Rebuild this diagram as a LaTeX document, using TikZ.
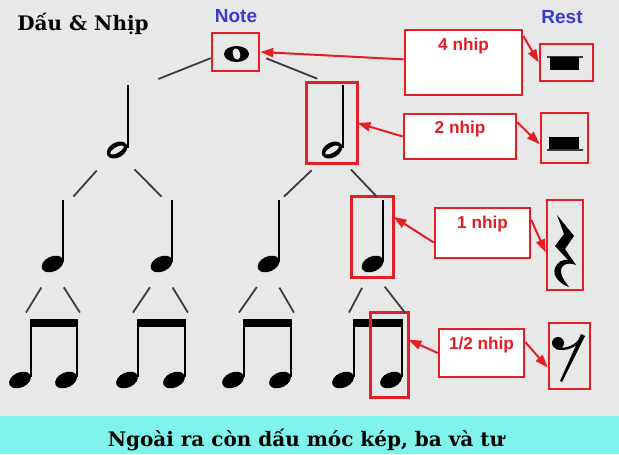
\documentclass[tikz,border=0pt]{standalone}
\usepackage{fontspec}
\setmainfont{DejaVu Serif}
\newfontfamily\labelfont{Liberation Sans}
\usetikzlibrary{arrows.meta}

\definecolor{bggray}{RGB}{232,232,232}
\definecolor{bandcyan}{RGB}{128,244,236}
\definecolor{markred}{RGB}{228,30,36}
\definecolor{headblue}{RGB}{55,60,205}
\definecolor{branchgray}{RGB}{60,60,60}

\begin{document}
\begin{tikzpicture}[
    x=0.5pt, y=-0.5pt,
    every node/.style={inner sep=0pt},
    title/.style={font=\bfseries\fontsize{10pt}{12pt}\selectfont},
    head/.style={font=\labelfont\bfseries\fontsize{9.5pt}{11pt}\selectfont, text=headblue},
    lbltxt/.style={font=\labelfont\bfseries\fontsize{8.6pt}{10pt}\selectfont, text=markred},
    lbox/.style={draw=markred, line width=1.3pt, fill=white},
    hl/.style={draw=markred, line width=1.3pt},
    halfbox/.style={minimum width=25pt, minimum height=40pt},
    qbox/.style={minimum width=20.5pt, minimum height=40pt},
    ebox/.style={minimum width=18.5pt, minimum height=42pt},
    stem/.style={line width=1.25pt},
    branch/.style={draw=branchgray, line width=0.9pt},
    restline/.style={draw=branchgray, line width=0.8pt},
    arr/.style={draw=markred, line width=1pt, -{Triangle[length=6.5pt, width=4.5pt]}}
  ]
    \useasboundingbox (0,0) rectangle (619,454);
    \fill[bggray] (0,0) rectangle (619,454);
    \fill[bandcyan] (0,416) rectangle (619,454);

    \node[title, anchor=base west] (title) at (17,31) {Dấu \& Nhịp};
    \node[head, anchor=base] (notehd) at (236,23) {Note};
    \node[head, anchor=base] (resthd) at (562,24) {Rest};
    \node[title, anchor=base] (footer) at (306,446) {Ngoài ra còn dấu móc kép, ba và tư};

    % whole note
    \node[hl, minimum width=23.5pt, minimum height=19pt] (whole) at (235.5,52) {};
    \fill (236.5,54) ellipse (12.5 and 8);
    \fill[bggray, rotate around={15:(236.5,54)}] (236.5,54) ellipse (3.6 and 5.8);

    % half notes
    \foreach \n/\x in {1/117,2/332}{
      \node[halfbox] (h\n) at (\x,123) {};
      \fill[rotate around={30:(\x,150)}] (\x,150) ellipse (11 and 7.5);
      \fill[bggray, rotate around={30:(\x,150)}] (\x,150) ellipse (7.5 and 2.8);
      \draw[stem] (\x+11,85) -- (\x+11,148);
    }

    % quarter notes
    \foreach \n/\x in {1/52.5,2/161.5,3/268.5,4/372.5}{
      \node[qbox] (q\n) at (\x,237) {};
      \fill[rotate around={25:(\x,264)}] (\x,264) ellipse (11.5 and 7.5);
      \draw[stem] (\x+10.5,200) -- (\x+10.5,262);
    }

    % eighth note pairs
    \foreach \n/\a/\b in {1/18.5/64.5,2/125.5/172.5,3/231.5/278.5,4/341.5/389.5}{
      \node[ebox] (el\n) at (\a,355) {};
      \node[ebox] (er\n) at (\b,355) {};
      \fill (\a+11.2,319) rectangle (\b+13.8,327);
      \draw[stem] (\a+12.5,319) -- (\a+12.5,377);
      \draw[stem] (\b+12.5,319) -- (\b+12.5,377);
      \fill[rotate around={25:(\a+1.5,380)}] (\a+1.5,380) ellipse (11.5 and 7.5);
      \fill[rotate around={25:(\b+1.5,380)}] (\b+1.5,380) ellipse (11.5 and 7.5);
    }

    \draw[hl] (h2.south west) rectangle (h2.north east);
    \draw[hl] (q4.south west) rectangle (q4.north east);
    \draw[hl] (er4.south west) rectangle (er4.north east);

    % tree
    \draw[branch, shorten >=8.6pt] (whole.194) -- (h1.56);
    \draw[branch, shorten <=3.2pt, shorten >=5.3pt] (whole.351) -- (h2.97);
    \draw[branch, shorten <=4.8pt] (h1.251) -- (q1.north east);
    \draw[branch, shorten <=4.2pt] (h1.286) -- (q2.north);
    \draw[branch, shorten <=5pt] (h2.252) -- (q3.69);
    \draw[branch, shorten <=4.2pt] (h2.288) -- (q4.84);
    \foreach \n in {1,...,4}{
      \draw[branch, shorten <=5.9pt] (q\n.263) -- (el\n.80);
      \draw[branch, shorten <=5.9pt] (q\n.277) -- (er\n.70);
    }

    % rests
    \node[hl, minimum width=26.5pt, minimum height=18.5pt] (wrest) at (566.5,62.5) {};
    \draw[restline] (547,57) -- (583,57);
    \fill (550,57) rectangle (579,70);

    \node[hl, minimum width=23.5pt, minimum height=25pt] (hrest) at (564.5,138) {};
    \fill (549,137) rectangle (579,149);
    \draw[restline] (547,150) -- (583,150);

    \node[hl, minimum width=18pt, minimum height=45pt] (qrest) at (565,245) {};
    \fill (557,215) -- (574,236) -- (565,249) -- (576,265)
      .. controls (566,261) and (558,266) .. (562,276)
      .. controls (564,281) and (567,284) .. (569,287)
      .. controls (560,284) and (552,276) .. (555,268)
      .. controls (557,262) and (563,259) .. (568,260)
      -- (555,246) -- (564,234) -- cycle;

    \node[hl, minimum width=20.5pt, minimum height=33pt] (erest) at (569.5,356) {};
    \fill (558,343) circle (6);
    \draw[line width=1.2pt] (556,348) .. controls (566,351) and (577,346) .. (583,336);
    \fill (581,334) -- (585,336) -- (562,382) -- (560,381) -- cycle;

    % duration labels
    \node[lbox, minimum width=58.5pt, minimum height=32.5pt,
      label={[lbltxt, anchor=base, yshift=-10.75pt]north:4 nhip}] (n4) at (463.5,62.5) {};
    \node[lbox, minimum width=56pt, minimum height=22.5pt,
      label={[lbltxt, anchor=base, yshift=-10.5pt]north:2 nhip}] (n2) at (460,136.5) {};
    \node[lbox, minimum width=47.5pt, minimum height=25pt,
      label={[lbltxt, anchor=base, yshift=-11pt]north:1 nhip}] (n1) at (482.5,233) {};
    \node[lbox, minimum width=42.5pt, minimum height=24pt,
      label={[lbltxt, anchor=base, yshift=-11pt]north:1/2 nhip}] (nh) at (481.5,353) {};

    \draw[arr] (n4.177) -- (whole.east);
    \draw[arr] (n4.24) -- (wrest.west);
    \draw[arr] (n2.west) -- (h2.east);
    \draw[arr] (n2.14) -- (hrest.194);
    \draw[arr] (n1.191) -- (q4.44);
    \draw[arr] (n1.15) -- (qrest.201);
    \draw[arr] (nh.west) -- (er4.39);
    \draw[arr] (nh.14) -- (erest.208);
\end{tikzpicture}
\end{document}
